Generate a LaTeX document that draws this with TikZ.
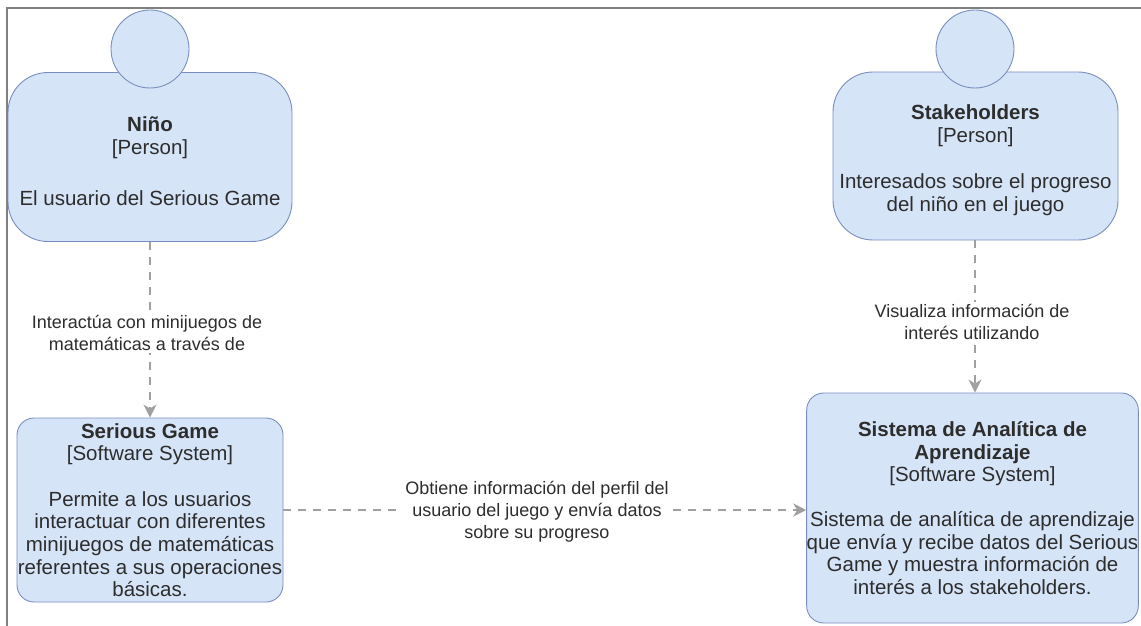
\documentclass[tikz,border=0pt]{standalone}
\usepackage{fontspec}
\setmainfont{Liberation Sans}
\usetikzlibrary{arrows.meta}
\definecolor{boxfill}{RGB}{214,228,248}
\definecolor{boxdraw}{RGB}{122,142,190}
\definecolor{txt}{RGB}{45,45,45}
\definecolor{conn}{RGB}{160,160,160}
\definecolor{frame}{RGB}{128,128,128}
\tikzset{
  personbody/.style={draw=boxdraw, fill=boxfill, line width=0.9pt, rounded corners=40pt,
    minimum width=284pt, minimum height=169pt, inner sep=0pt},
  persontext/.style={align=center, text=txt, inner sep=0pt, font=\fontsize{20.5}{23}\selectfont},
  personhead/.style={draw=boxdraw, fill=boxfill, line width=0.9pt, circle, minimum size=78pt, inner sep=0pt},
  sysbox/.style={draw=boxdraw, fill=boxfill, line width=0.9pt, rounded corners=17pt,
    inner sep=0pt, align=center, text=txt, font=\fontsize{20.5}{22.6}\selectfont},
  rel/.style={draw=conn, line width=1.8pt, dash pattern=on 8pt off 7pt,
    -{Stealth[length=13pt,width=13pt,inset=4pt]}},
  rellabel/.style={fill=white, text=txt, align=center, inner sep=2pt,
    font=\fontsize{18}{22}\selectfont},
}
\begin{document}
\begin{tikzpicture}[x=1pt, y=-1pt]
\useasboundingbox (0,0) rectangle (1141,626);
% frame
\draw[frame, line width=2pt] (6.5,626) -- (6.5,8) -- (1141,8);

% Niño
\node[personbody] (nino) at (150,157) {};
\node[persontext] (ninotext) at ([yshift=-4.5pt]nino.center) {\textbf{Niño}\\{[Person]}\\[28pt]El usuario del Serious Game};
\node[personhead] (ninohead) at (150,49) {};

% Stakeholders
\node[personbody, minimum width=285pt, minimum height=168pt] (stk) at (975.5,156) {};
\node[persontext] (stktext) at ([yshift=-4pt]stk.center) {\textbf{Stakeholders}\\{[Person]}\\[23pt]Interesados sobre el progreso\\del niño en el juego};
\node[personhead] (stkhead) at (975,49) {};

% Serious Game
\node[sysbox, minimum width=266pt, minimum height=184pt] (sg) at (150,510)
  {\textbf{Serious Game}\\{[Software System]}\\[23pt]Permite a los usuarios\\interactuar con diferentes\\minijuegos de matemáticas\\referentes a sus operaciones\\básicas.};

% Sistema de Analítica
\node[sysbox, minimum width=331pt, minimum height=230pt] (sas) at (972.5,508)
  {\textbf{Sistema de Analítica de}\\\textbf{Aprendizaje}\\{[Software System]}\\[22pt]Sistema de analítica de aprendizaje\\que envía y recibe datos del Serious\\Game y muestra información de\\interés a los stakeholders.};

% relationships
\draw[rel] (nino.south) -- (sg.north);
\node[rellabel] (l1) at (147,333) {Interactúa con minijuegos de\\matemáticas a través de};

\draw[rel] (stk.south -| 975,0) -- (sas.north -| 975,0);
\node[rellabel] (l2) at (972,322) {Visualiza información de\\interés utilizando};

\draw[rel] (sg.east) -- (sg.east -| sas.west);
\node[rellabel] (l3) at (537,512) {Obtiene información del perfil del\\usuario del juego y envía datos\\sobre su progreso};
\end{tikzpicture}
\end{document}
